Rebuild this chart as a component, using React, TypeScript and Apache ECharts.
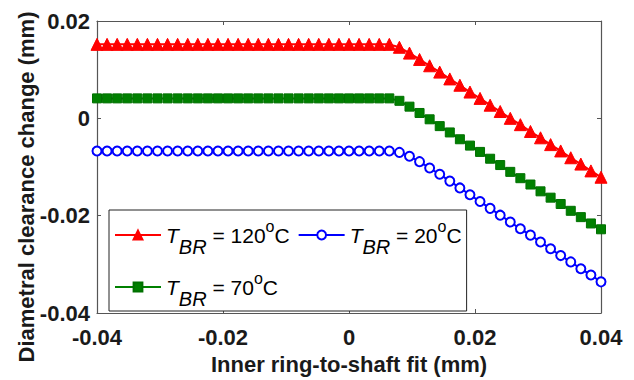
import React, { useEffect, useRef } from 'react';
import * as echarts from 'echarts';

// Inner ring-to-shaft fit (mm)
const fitX = [
  -0.04, -0.0384, -0.0368, -0.0352, -0.0336, -0.032, -0.0304, -0.0288, -0.0272, -0.0256,
  -0.024, -0.0224, -0.0208, -0.0192, -0.0176, -0.016, -0.0144, -0.0128, -0.0112, -0.0096,
  -0.008, -0.0064, -0.0048, -0.0032, -0.0016, 0, 0.0016, 0.0032, 0.0048, 0.0064,
  0.008, 0.0096, 0.0112, 0.0128, 0.0144, 0.016, 0.0176, 0.0192, 0.0208, 0.0224,
  0.024, 0.0256, 0.0272, 0.0288, 0.0304, 0.032, 0.0336, 0.0352, 0.0368, 0.0384, 0.04,
];

// Diametral clearance change (mm), T_BR = 120 °C
const clearance120 = [
  0.0152, 0.0152, 0.0152, 0.0152, 0.0152, 0.0152, 0.0152, 0.0152, 0.0152, 0.0152,
  0.0152, 0.0152, 0.0152, 0.0152, 0.0152, 0.0152, 0.0152, 0.0152, 0.0152, 0.0152,
  0.0152, 0.0152, 0.0152, 0.0152, 0.0152, 0.0152, 0.0152, 0.0152, 0.0152, 0.0152,
  0.0146, 0.0134, 0.0121, 0.0108, 0.0095, 0.0081, 0.0068, 0.0054, 0.0041, 0.0027,
  0.0014, 0.0, -0.0013, -0.0027, -0.004, -0.0054, -0.0067, -0.0081, -0.0094, -0.0108, -0.0121,
];

// T_BR = 20 °C
const clearance20 = [
  -0.0067, -0.0067, -0.0067, -0.0067, -0.0067, -0.0067, -0.0067, -0.0067, -0.0067, -0.0067,
  -0.0067, -0.0067, -0.0067, -0.0067, -0.0067, -0.0067, -0.0067, -0.0067, -0.0067, -0.0067,
  -0.0067, -0.0067, -0.0067, -0.0067, -0.0067, -0.0067, -0.0067, -0.0067, -0.0067, -0.0067,
  -0.007, -0.0078, -0.0089, -0.0102, -0.0115, -0.0129, -0.0143, -0.0157, -0.0171, -0.0185,
  -0.0199, -0.0213, -0.0227, -0.024, -0.0254, -0.0268, -0.0282, -0.0295, -0.0309, -0.0322, -0.0336,
];

// T_BR = 70 °C
const clearance70 = [
  0.0041, 0.0041, 0.0041, 0.0041, 0.0041, 0.0041, 0.0041, 0.0041, 0.0041, 0.0041,
  0.0041, 0.0041, 0.0041, 0.0041, 0.0041, 0.0041, 0.0041, 0.0041, 0.0041, 0.0041,
  0.0041, 0.0041, 0.0041, 0.0041, 0.0041, 0.0041, 0.0041, 0.0041, 0.0041, 0.0041,
  0.0036, 0.0024, 0.0011, -0.0002, -0.0016, -0.0029, -0.0043, -0.0056, -0.0069, -0.0083,
  -0.0096, -0.011, -0.0123, -0.0136, -0.015, -0.0163, -0.0176, -0.019, -0.0203, -0.0216, -0.0228,
];

const temperatures = ['120', '20', '70'];
const xAxisTitle = 'Inner ring-to-shaft fit (mm)';
const yAxisTitle = 'Diametral clearance change (mm)';

const FONT = '"Liberation Sans", Arial, sans-serif';
const AXIS_COLOR = '#555';
const TEXT_COLOR = '#1a1a1a';

const seriesName = (t: string) => `T_BR = ${t}°C`;

export default function App() {
  const ref = useRef<HTMLDivElement>(null);

  useEffect(() => {
    if (!ref.current) return;
    const chart = echarts.init(ref.current, null, { renderer: 'svg' });

    const pairs = (ys: number[]) => fitX.map((x, i) => [x, ys[i]]);

    const axisCommon = {
      type: 'value' as const,
      axisLine: { show: true, onZero: false, lineStyle: { color: AXIS_COLOR, width: 1.2 } },
      axisTick: { show: true, inside: true, length: 4, lineStyle: { color: AXIS_COLOR, width: 1 } },
      splitLine: { show: false },
    };

    const nameByTemp: Record<string, string> = {};
    temperatures.forEach((t) => (nameByTemp[seriesName(t)] = t));

    chart.setOption({
      animation: false,
      backgroundColor: '#ffffff',
      grid: { left: 97, right: 33, top: 21, bottom: 66, containLabel: false },
      graphic: [
        {
          type: 'text',
          x: 26,
          y: 187,
          rotation: Math.PI / 2,
          style: {
            text: yAxisTitle,
            fontSize: 22,
            fontWeight: 'bold',
            fontFamily: FONT,
            fill: TEXT_COLOR,
            align: 'center',
            verticalAlign: 'middle',
          },
        },
      ],
      xAxis: [
        {
          ...axisCommon,
          position: 'bottom',
          min: -0.04,
          max: 0.04,
          interval: 0.02,
          axisLabel: {
            show: true,
            fontSize: 22,
            fontWeight: 'bold',
            fontFamily: FONT,
            color: TEXT_COLOR,
            margin: 13,
          },
          name: xAxisTitle,
          nameLocation: 'middle',
          nameGap: 40,
          nameTextStyle: { fontSize: 22, fontWeight: 'bold', fontFamily: FONT, color: TEXT_COLOR },
        },
        {
          ...axisCommon,
          position: 'top',
          min: -0.04,
          max: 0.04,
          interval: 0.02,
          axisLabel: { show: false },
        },
      ],
      yAxis: [
        {
          ...axisCommon,
          position: 'left',
          min: -0.04,
          max: 0.02,
          interval: 0.02,
          axisLabel: {
            show: true,
            fontSize: 22,
            fontWeight: 'bold',
            fontFamily: FONT,
            color: TEXT_COLOR,
            margin: 7,
          },
        },
        {
          ...axisCommon,
          position: 'right',
          min: -0.04,
          max: 0.02,
          interval: 0.02,
          axisLabel: { show: false },
        },
      ],
      legend: {
        show: true,
        left: 109,
        top: 210,
        width: 370,
        orient: 'horizontal',
        data: temperatures.map(seriesName),
        itemWidth: 46,
        itemHeight: 11,
        itemGap: 8,
        padding: [3, 5, 2, 5],
        backgroundColor: '#ffffff',
        borderColor: '#222',
        borderWidth: 1,
        borderRadius: 0,
        align: 'left',
        formatter: (name: string) => {
          const t = nameByTemp[name];
          return `{t|T}{s|BR}{n| = ${t}}{o|o}{n|C}`;
        },
        textStyle: {
          fontFamily: FONT,
          fontSize: 21,
          color: '#000',
          rich: {
            n: { fontSize: 21, fontFamily: FONT, color: '#000', lineHeight: 36 },
            t: { fontSize: 21, fontFamily: FONT, fontStyle: 'italic', color: '#000', lineHeight: 36 },
            s: {
              fontSize: 20,
              fontFamily: FONT,
              fontStyle: 'italic',
              color: '#000',
              lineHeight: 36,
              padding: [24, 0, 0, 0],
            },
            o: {
              fontSize: 16,
              fontFamily: FONT,
              color: '#000',
              lineHeight: 36,
              padding: [0, 0, 18, 0],
            },
          },
        },
      },
      series: [
        {
          type: 'line',
          name: seriesName(temperatures[0]),
          data: pairs(clearance120),
          symbol: 'triangle',
          symbolSize: 12,
          itemStyle: { color: '#ff0000', borderColor: '#ff0000', borderWidth: 1 },
          lineStyle: { color: '#ff0000', width: 2 },
          z: 3,
        },
        {
          type: 'line',
          name: seriesName(temperatures[1]),
          data: pairs(clearance20),
          symbol: 'emptyCircle',
          symbolSize: 9,
          itemStyle: { color: '#0000ff', borderColor: '#0000ff', borderWidth: 2 },
          lineStyle: { color: '#0000ff', width: 2 },
          z: 3,
        },
        {
          type: 'line',
          name: seriesName(temperatures[2]),
          data: pairs(clearance70),
          symbol: 'rect',
          symbolSize: 9,
          itemStyle: { color: '#008000', borderColor: '#007000', borderWidth: 1 },
          lineStyle: { color: '#008000', width: 2 },
          z: 3,
        },
      ],
    });

    return () => chart.dispose();
  }, []);

  return (
    <div
      ref={ref}
      style={{ position: 'absolute', left: 0, top: 0, width: 634, height: 380, background: '#fff' }}
    />
  );
}
